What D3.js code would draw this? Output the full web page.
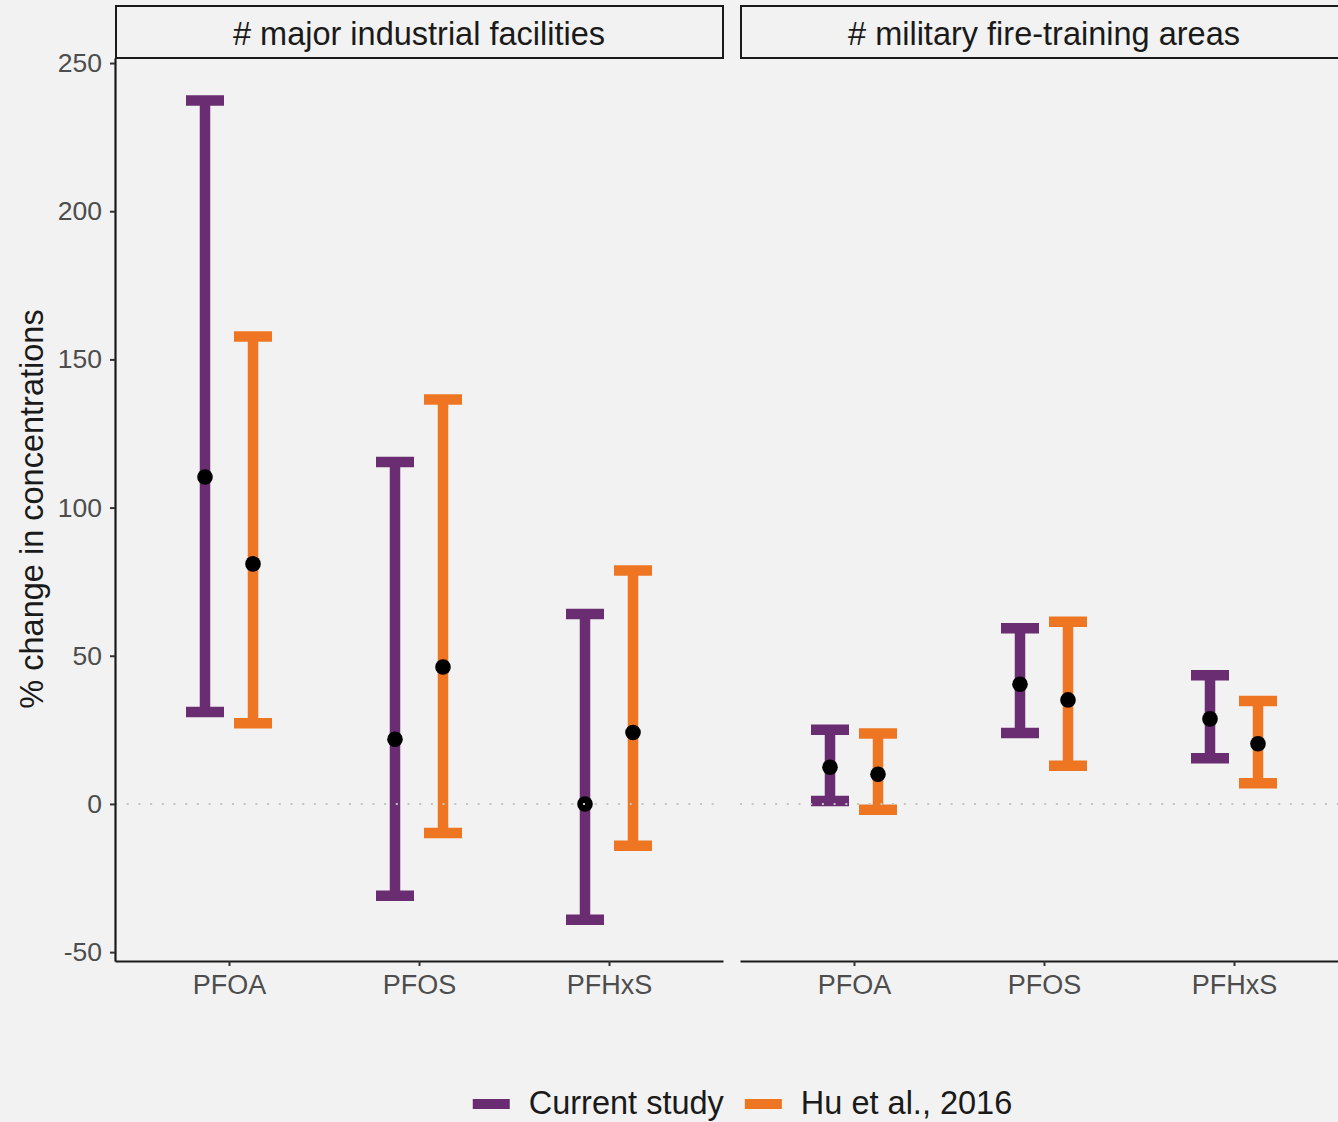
<!DOCTYPE html>
<html>
<head>
<meta charset="utf-8">
<script src="https://cdn.jsdelivr.net/npm/d3@7"></script>
<style>
  html, body { margin: 0; padding: 0; background: #f2f2f2; }
  svg { display: block; font-family: "Liberation Sans", Arial, Helvetica, sans-serif; }
</style>
</head>
<body>
<svg id="chart" width="1338" height="1122"></svg>
<script>
// Facets, compounds and studies
const facets = ["# major industrial facilities", "# military fire-training areas"];
const compounds = ["PFOA", "PFOS", "PFHxS"];
const studies = ["Current study", "Hu et al., 2016"];
const studyColors = ["#6b2d72", "#ee7623"];

// Per compound: [estimate, lower, upper] (% change in concentrations)
const industrialCurrent = [[110.3, 31.0, 237.4], [21.8, -31.0, 115.4], [0.0, -39.1, 64.1]];
const industrialHu      = [[81.0, 27.2, 157.7], [46.2, -9.8, 136.5], [24.1, -14.1, 78.8]];
const militaryCurrent   = [[12.4, 1.0, 25.0], [40.4, 23.9, 59.3], [28.7, 15.4, 43.4]];
const militaryHu        = [[10.0, -2.0, 23.8], [35.1, 12.9, 61.5], [20.3, 7.0, 34.7]];

const yTicks = [-50, 0, 50, 100, 150, 200, 250];

// Rows per facet, built from the arrays above
const facetData = [
  [industrialCurrent, industrialHu],
  [militaryCurrent, militaryHu]
].map(pair => pair.flatMap((rows, si) => rows.map((r, ci) => ({
  study: studies[si], compound: compounds[ci], est: r[0], lo: r[1], hi: r[2]
}))));

const svg = d3.select("#chart");
const panelTop = 58, panelBottom = 961, panelW = 608;
const panelLefts = [115, 740];

const y = d3.scaleLinear().domain([-53.0, 251.7]).range([panelBottom, panelTop]);
const x = d3.scalePoint().domain(compounds).range([0, panelW]).padding(0.6);
const dodge = d3.scalePoint().domain(studies).range([-24, 24]);
const color = d3.scaleOrdinal().domain(studies).range(studyColors);

const capHalf = 19, barW = 10.5;

facets.forEach((name, fi) => {
  const g = svg.append("g").attr("transform", `translate(${panelLefts[fi]},0)`);

  // strip
  g.append("rect").attr("x", 1).attr("y", 6).attr("width", panelW - 1).attr("height", panelTop - 6)
    .attr("fill", "#f2f2f2").attr("stroke", "#1a1a1a").attr("stroke-width", 2);
  g.append("text").attr("x", panelW / 2).attr("y", 33).attr("dy", "0.36em")
    .attr("text-anchor", "middle").attr("fill", "#1a1a1a").attr("font-size", 32.5).text(name);

  const rows = g.selectAll("g.err").data(facetData[fi]).join("g").attr("class", "err")
    .attr("transform", d => `translate(${x(d.compound) + dodge(d.study)},0)`);

  // vertical bar
  rows.append("line").attr("x1", 0).attr("x2", 0)
    .attr("y1", d => y(d.hi)).attr("y2", d => y(d.lo))
    .attr("stroke", d => color(d.study)).attr("stroke-width", barW);
  // caps
  rows.selectAll("line.cap").data(d => [d.hi, d.lo].map(v => ({ v, study: d.study })))
    .join("line").attr("class", "cap")
    .attr("x1", -capHalf).attr("x2", capHalf)
    .attr("y1", d => y(d.v)).attr("y2", d => y(d.v))
    .attr("stroke", d => color(d.study)).attr("stroke-width", barW);

  // reference line at zero
  g.append("line").attr("x1", 0).attr("x2", panelW).attr("y1", y(0)).attr("y2", y(0))
    .attr("stroke", "#c4c4c4").attr("stroke-width", 2).attr("stroke-dasharray", "2,9.7");

  // point estimates
  rows.append("circle").attr("cx", 0).attr("cy", d => y(d.est)).attr("r", 7.8).attr("fill", "#000");

  // x axis
  const xa = g.append("g").attr("transform", `translate(0,${panelBottom})`)
    .call(d3.axisBottom(x).tickSize(5).tickPadding(9).tickSizeOuter(0));
  xa.select(".domain").attr("stroke", "#1a1a1a").attr("stroke-width", 2.2);
  xa.selectAll(".tick line").attr("stroke", "#333").attr("stroke-width", 2);
  xa.selectAll(".tick text").attr("fill", "#4d4d4d").attr("font-size", 27).attr("font-family", null);

  if (fi === 0) {
    const ya = g.append("g")
      .call(d3.axisLeft(y).tickValues(yTicks).tickFormat(d => String(d)).tickSize(5).tickPadding(8).tickSizeOuter(0));
    ya.select(".domain").attr("stroke", "#1a1a1a").attr("stroke-width", 2.2);
    ya.selectAll(".tick line").attr("stroke", "#333").attr("stroke-width", 2);
    ya.selectAll(".tick text").attr("fill", "#4d4d4d").attr("font-size", 26.5).attr("font-family", null);
  }
});

// y title
svg.append("text").attr("transform", "translate(43,509) rotate(-90)")
  .attr("text-anchor", "middle").attr("fill", "#1a1a1a").attr("font-size", 32.5)
  .text("% change in concentrations");

// legend
const legend = svg.append("g");
let lx = 0;
studies.forEach((s, i) => {
  const item = legend.append("g").attr("transform", `translate(${lx},0)`);
  item.append("line").attr("x1", 0).attr("x2", 37).attr("y1", 1104).attr("y2", 1104)
    .attr("stroke", color(s)).attr("stroke-width", 10);
  const t = item.append("text").attr("x", 56).attr("y", 1114).attr("fill", "#1a1a1a")
    .attr("font-size", 32.5).text(s);
  lx += 56 + t.node().getComputedTextLength() + 21;
});
const legW = lx - 21;
legend.attr("transform", `translate(${742.5 - legW / 2},0)`);
</script>
</body>
</html>
